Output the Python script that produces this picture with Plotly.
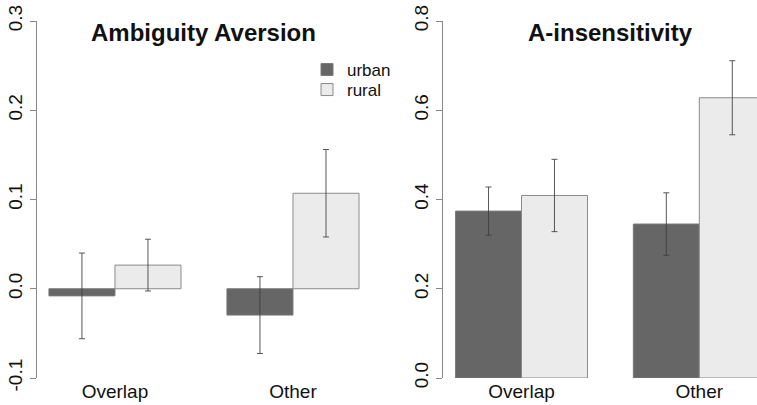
import plotly.graph_objects as go
from plotly.subplots import make_subplots

W, H = 757, 405

categories = ["Overlap", "Other"]
groups = ["urban", "rural"]

# Ambiguity Aversion
aa_urban = [-0.008, -0.0295]
aa_rural = [0.0265, 0.107]
aa_urban_err = [0.048, 0.043]
aa_rural_err = [0.029, 0.049]

# A-insensitivity
ai_urban = [0.374, 0.345]
ai_rural = [0.409, 0.628]
ai_urban_err = [0.054, 0.070]
ai_rural_err = [0.081, 0.083]

titles = ["Ambiguity Aversion", "A-insensitivity"]
aa_ticks = [-0.1, 0.0, 0.1, 0.2, 0.3]
aa_ticktext = ["-0.1", "0.0", "0.1", "0.2", "0.3"]
ai_ticks = [0.0, 0.2, 0.4, 0.6, 0.8]
ai_ticktext = ["0.0", "0.2", "0.4", "0.6", "0.8"]

colors = {"urban": "#666666", "rural": "#EBEBEB"}
FONT = "Liberation Sans, Arial, sans-serif"

fig = make_subplots(rows=1, cols=2)

err_style = dict(type="data", symmetric=True, thickness=1, width=3, color="rgba(60,60,60,0.85)")

data = [
    (1, aa_urban, aa_urban_err, aa_rural, aa_rural_err),
    (2, ai_urban, ai_urban_err, ai_rural, ai_rural_err),
]
for col, u, ue, r, re_ in data:
    fig.add_trace(go.Bar(x=categories, y=u, name="urban", marker=dict(color=colors["urban"], line=dict(color="#7a7a7a", width=1)),
                         error_y=dict(array=ue, **err_style), showlegend=(col == 1), legend="legend"), row=1, col=col)
    fig.add_trace(go.Bar(x=categories, y=r, name="rural", marker=dict(color=colors["rural"], line=dict(color="#8a8a8a", width=1)),
                         error_y=dict(array=re_, **err_style), showlegend=(col == 1), legend="legend2"), row=1, col=col)

ydom = [1 - 378 / H, 1 - 21 / H]
leg_common = dict(xanchor="left", yanchor="middle", bgcolor="rgba(0,0,0,0)",
                  font=dict(size=17, family=FONT, color="#111"), itemwidth=30)
yax_common = dict(domain=ydom, tickangle=-90, showline=True, linecolor="#888", linewidth=1, ticks="outside",
                  ticklen=6, tickcolor="#888", showgrid=False, zeroline=False, tickfont=dict(size=19),
                  automargin=False)
xax_common = dict(showline=False, showgrid=False, zeroline=False, ticks="", tickfont=dict(size=19),
                  automargin=False)
fig.update_layout(
    width=W, height=H,
    margin=dict(l=0, r=0, t=0, b=0, autoexpand=False),
    paper_bgcolor="white", plot_bgcolor="white",
    barmode="group", bargap=0.258, bargroupgap=0,
    font=dict(family=FONT, color="#111"),
    legend=dict(x=307 / W, y=1 - 70 / H, **leg_common),
    legend2=dict(x=307 / W, y=1 - 90 / H, **leg_common),
    xaxis=dict(domain=[37 / W, 372 / W], range=[-0.438, 1.444], **xax_common),
    xaxis2=dict(domain=[443 / W, 1.0], range=[-0.4415, 1.3245], **xax_common),
    yaxis=dict(range=[-0.1, 0.3], tickvals=aa_ticks, ticktext=aa_ticktext, **yax_common),
    yaxis2=dict(range=[0.0, 0.8], tickvals=ai_ticks, ticktext=ai_ticktext, **yax_common),
)

for title, cx in zip(titles, [203.5, 610.5]):
    fig.add_annotation(text="<b>" + title + "</b>", x=cx / W, y=1 - 32 / H, xref="paper", yref="paper",
                       xanchor="center", yanchor="middle", showarrow=False,
                       font=dict(size=24, family=FONT, color="#111"))

fig.write_html("out.html", config={"displayModeBar": False},
               post_script="document.body.style.margin='0';document.body.style.overflow='hidden';")
